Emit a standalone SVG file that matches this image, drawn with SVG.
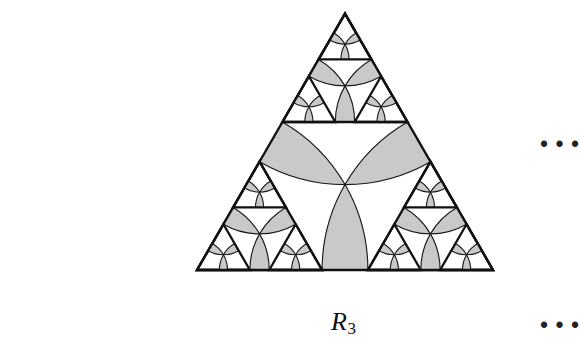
<svg xmlns="http://www.w3.org/2000/svg" width="580" height="338" viewBox="0 0 580 338">
<style>
.lens{fill:#c9c9c9;stroke:none}
.arc{fill:none;stroke:#1a1a1a;stroke-width:1.15;vector-effect:non-scaling-stroke}
.tri{fill:none;stroke:#111;stroke-width:2.3;stroke-linejoin:miter;vector-effect:non-scaling-stroke}
.lbl{font-family:"Liberation Serif",serif;fill:#111}
.dots{font-family:"Liberation Sans",sans-serif;font-size:23px;fill:#222;text-anchor:middle}
</style>
<defs>
<g id="cell">
 <path class="lens" d="M0.5,0.57735 A0.57735,0.57735 0 0 0 0.42265,0.866025 L0.57735,0.866025 A0.57735,0.57735 0 0 0 0.5,0.57735 Z"/>
 <path class="lens" d="M0.288675,0.366025 L0.211325,0.5 A0.57735,0.57735 0 0 0 0.5,0.57735 A0.57735,0.57735 0 0 0 0.288675,0.366025 Z"/>
 <path class="lens" d="M0.711325,0.366025 L0.788675,0.5 A0.57735,0.57735 0 0 1 0.5,0.57735 A0.57735,0.57735 0 0 1 0.711325,0.366025 Z"/>
 <path class="arc" d="M0.211325,0.5 A0.57735,0.57735 0 0 0 0.788675,0.5"/>
 <path class="arc" d="M0.288675,0.366025 A0.57735,0.57735 0 0 1 0.57735,0.866025"/>
 <path class="arc" d="M0.711325,0.366025 A0.57735,0.57735 0 0 0 0.42265,0.866025"/>
 <path class="tri" d="M0.5,0 L0,0.866025 L1,0.866025 Z"/>
</g>
</defs>
<g id="level0">
 <use href="#cell" transform="translate(197,13.6565) scale(296)"/>
</g>
<g id="level1">
 <use href="#cell" transform="translate(282.4479,13.6565) scale(125.1043)"/>
 <use href="#cell" transform="translate(197,161.6559) scale(125.1043)"/>
 <use href="#cell" transform="translate(367.8958,161.6559) scale(125.1043)"/>
</g>
<g id="level2">
 <use href="#cell" transform="translate(318.5623,13.6565) scale(52.8753)"/>
 <use href="#cell" transform="translate(282.4478,76.2092) scale(52.8753)"/>
 <use href="#cell" transform="translate(354.6768,76.2092) scale(52.8753)"/>
 <use href="#cell" transform="translate(233.1144,161.6559) scale(52.8753)"/>
 <use href="#cell" transform="translate(197,224.2086) scale(52.8753)"/>
 <use href="#cell" transform="translate(269.2289,224.2086) scale(52.8753)"/>
 <use href="#cell" transform="translate(404.0102,161.6559) scale(52.8753)"/>
 <use href="#cell" transform="translate(367.8957,224.2086) scale(52.8753)"/>
 <use href="#cell" transform="translate(440.1247,224.2086) scale(52.8753)"/>
</g>
<g id="label">
 <text class="lbl" x="331" y="330" font-size="26" font-style="italic">R<tspan x="347.5" y="334" font-size="17" font-style="normal">3</tspan></text>
</g>
<g id="ellipses">
 <text class="dots" x="544 559.5 575" y="151.5">•••</text>
 <text class="dots" x="544 559.5 575" y="333">•••</text>
</g>
</svg>
